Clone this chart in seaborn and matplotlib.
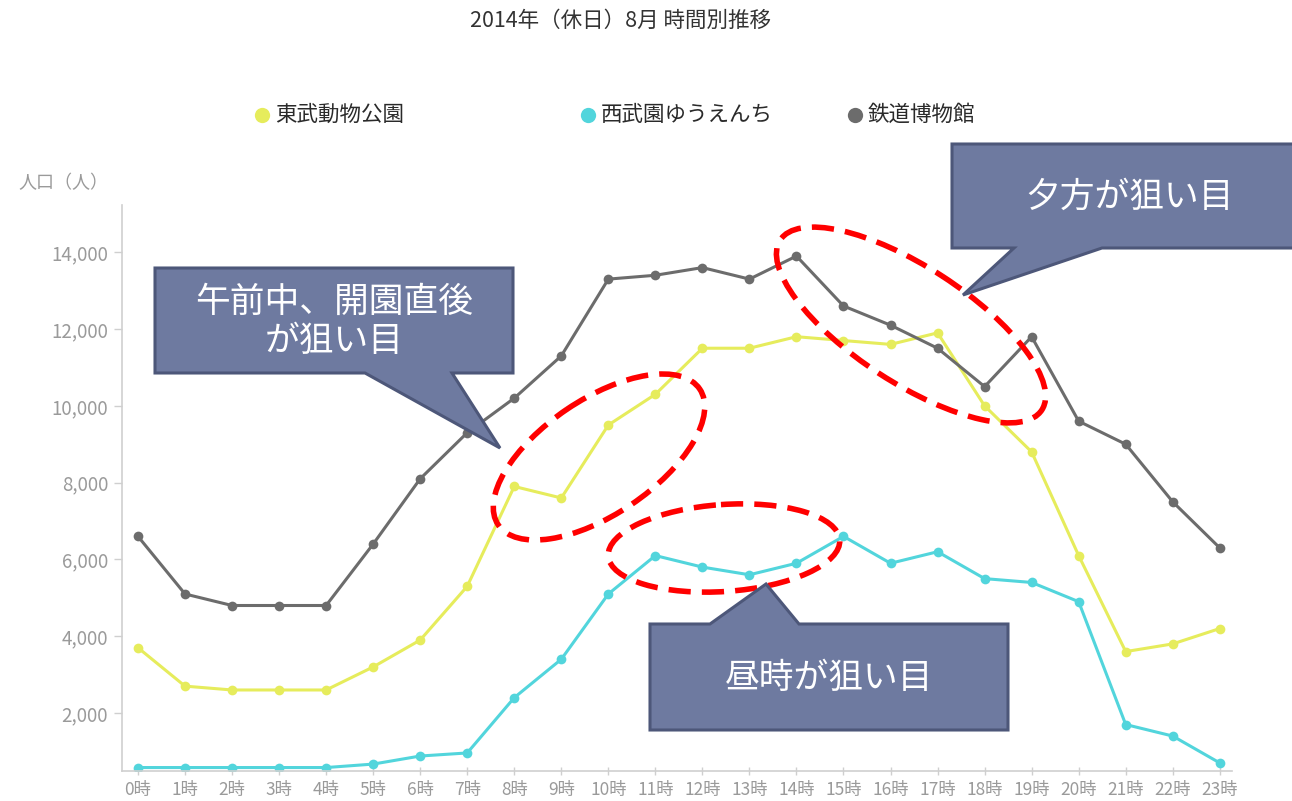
import matplotlib
matplotlib.use("Agg")
import matplotlib.pyplot as plt
import seaborn as sns
import pandas as pd
from matplotlib.transforms import Affine2D
from matplotlib.patches import Ellipse, Polygon
from matplotlib.lines import Line2D

# ---------------- data ----------------
hours = list(range(24))
hour_labels = [f"{h}時" for h in hours]
names = ["東武動物公園", "西武園ゆうえんち", "鉄道博物館"]
tobu = [3700, 2700, 2600, 2600, 2600, 3200, 3900, 5300, 7900, 7600, 9500, 10300,
        11500, 11500, 11800, 11700, 11600, 11900, 10000, 8800, 6100, 3600, 3800, 4200]
seibu = [580, 580, 580, 580, 580, 670, 880, 960, 2400, 3400, 5100, 6100,
         5800, 5600, 5900, 6600, 5900, 6200, 5500, 5400, 4900, 1700, 1400, 700]
tetsudo = [6600, 5100, 4800, 4800, 4800, 6400, 8100, 9300, 10200, 11300, 13300, 13400,
           13600, 13300, 13900, 12600, 12100, 11500, 10500, 11800, 9600, 9000, 7500, 6300]
y_ticks = [2000, 4000, 6000, 8000, 10000, 12000, 14000]
title = "2014年（休日）8月 時間別推移"
y_label = "人口（人）"
callout_texts = ["午前中、開園直後\nが狙い目", "夕方が狙い目", "昼時が狙い目"]

# ---------------- style ----------------
colors = ["#e6ec5c", "#52d5dc", "#6c6c6c"]
W, H = 1292, 801

sns.set_theme(style="white")
plt.rcParams["font.family"] = ["Noto Sans CJK JP", "DejaVu Sans"]

fig = plt.figure(figsize=(W / 100, H / 100), dpi=100)
ax = fig.add_axes([122 / W, 1 - 771 / H, 1110 / W, 566 / H])
PX = Affine2D().scale(1, -1).translate(0, H)  # reference-pixel coords (y down)

df = pd.DataFrame({
    "hour": hours * 3,
    "value": tobu + seibu + tetsudo,
    "place": [names[0]] * 24 + [names[1]] * 24 + [names[2]] * 24,
})
sns.lineplot(data=df, x="hour", y="value", hue="place", hue_order=names,
             palette=dict(zip(names, colors)), marker="o", markersize=7,
             markeredgewidth=0, linewidth=2.2, legend=False, ax=ax)

ax.set_xlim(-0.34, 23.26)
ax.set_ylim(490, 15230)
ax.set_xticks(hours)
ax.set_xticklabels(hour_labels)
ax.set_yticks(y_ticks)
ax.set_yticklabels([f"{v:,}" for v in y_ticks])
ax.set_xlabel("")
ax.set_ylabel("")
for s in ["top", "right"]:
    ax.spines[s].set_visible(False)
for s in ["left", "bottom"]:
    ax.spines[s].set_color("#cfcfcf")
    ax.spines[s].set_linewidth(1.2)
ax.tick_params(axis="y", colors="#cfcfcf", labelcolor="#9a9a9a", labelsize=13.5,
               length=6, width=1, pad=4, left=True)
ax.tick_params(axis="x", colors="#cfcfcf", labelcolor="#9a9a9a", labelsize=12.5,
               length=6, width=1, pad=4, direction="inout", bottom=True)
ax.grid(False)

# title & axis label
fig.text(620, 21, title, transform=PX, ha="center", va="center",
         fontsize=15.5, color="#333333")
fig.text(18, 183, y_label, transform=PX, ha="left", va="center",
         fontsize=13, color="#9a9a9a")

# legend
legend_x = [262, 588, 855]
for nm, c, lx in zip(names, colors, legend_x):
    fig.add_artist(Line2D([lx], [115], transform=PX, marker="o", markersize=11,
                          markeredgewidth=0, color=c, linestyle="none"))
    fig.text(lx + 13, 115, nm, transform=PX, ha="left", va="center",
             fontsize=15.5, color="#2a2a2a")

# red dashed ellipses
ell_specs = [((599, 457), 243, 115, -34), ((911, 325), 312, 116, 33), ((724, 548), 232, 87, -4)]
for (cx, cy), w, h, ang in ell_specs:
    fig.add_artist(Ellipse((cx, cy), w, h, angle=ang, transform=PX, fill=False,
                           edgecolor="#ff0000", linewidth=4, linestyle=(0, (4, 2)), zorder=5))

# callouts
fc, ec = "#6e7aa0", "#4d5779"
callouts = [
    ([(155, 268), (513, 268), (513, 373), (452, 373), (500, 448), (365, 373), (155, 373)],
     (334, 322), 25),
    ([(952, 144), (1300, 144), (1300, 248), (1102, 248), (963, 295), (1014, 248), (952, 248)],
     (1130, 197), 25),
    ([(650, 624), (710, 624), (766, 584), (799, 624), (1008, 624), (1008, 730), (650, 730)],
     (829, 678), 25),
]
for (verts, (tx, ty), fs), txt in zip(callouts, callout_texts):
    fig.add_artist(Polygon(verts, closed=True, transform=PX, facecolor=fc, edgecolor=ec,
                           linewidth=2.2, joinstyle="miter", zorder=6))
    fig.text(tx, ty, txt, transform=PX, ha="center", va="center", fontsize=fs,
             color="white", linespacing=1.15, zorder=7)

fig.savefig("out.png", dpi=100)
